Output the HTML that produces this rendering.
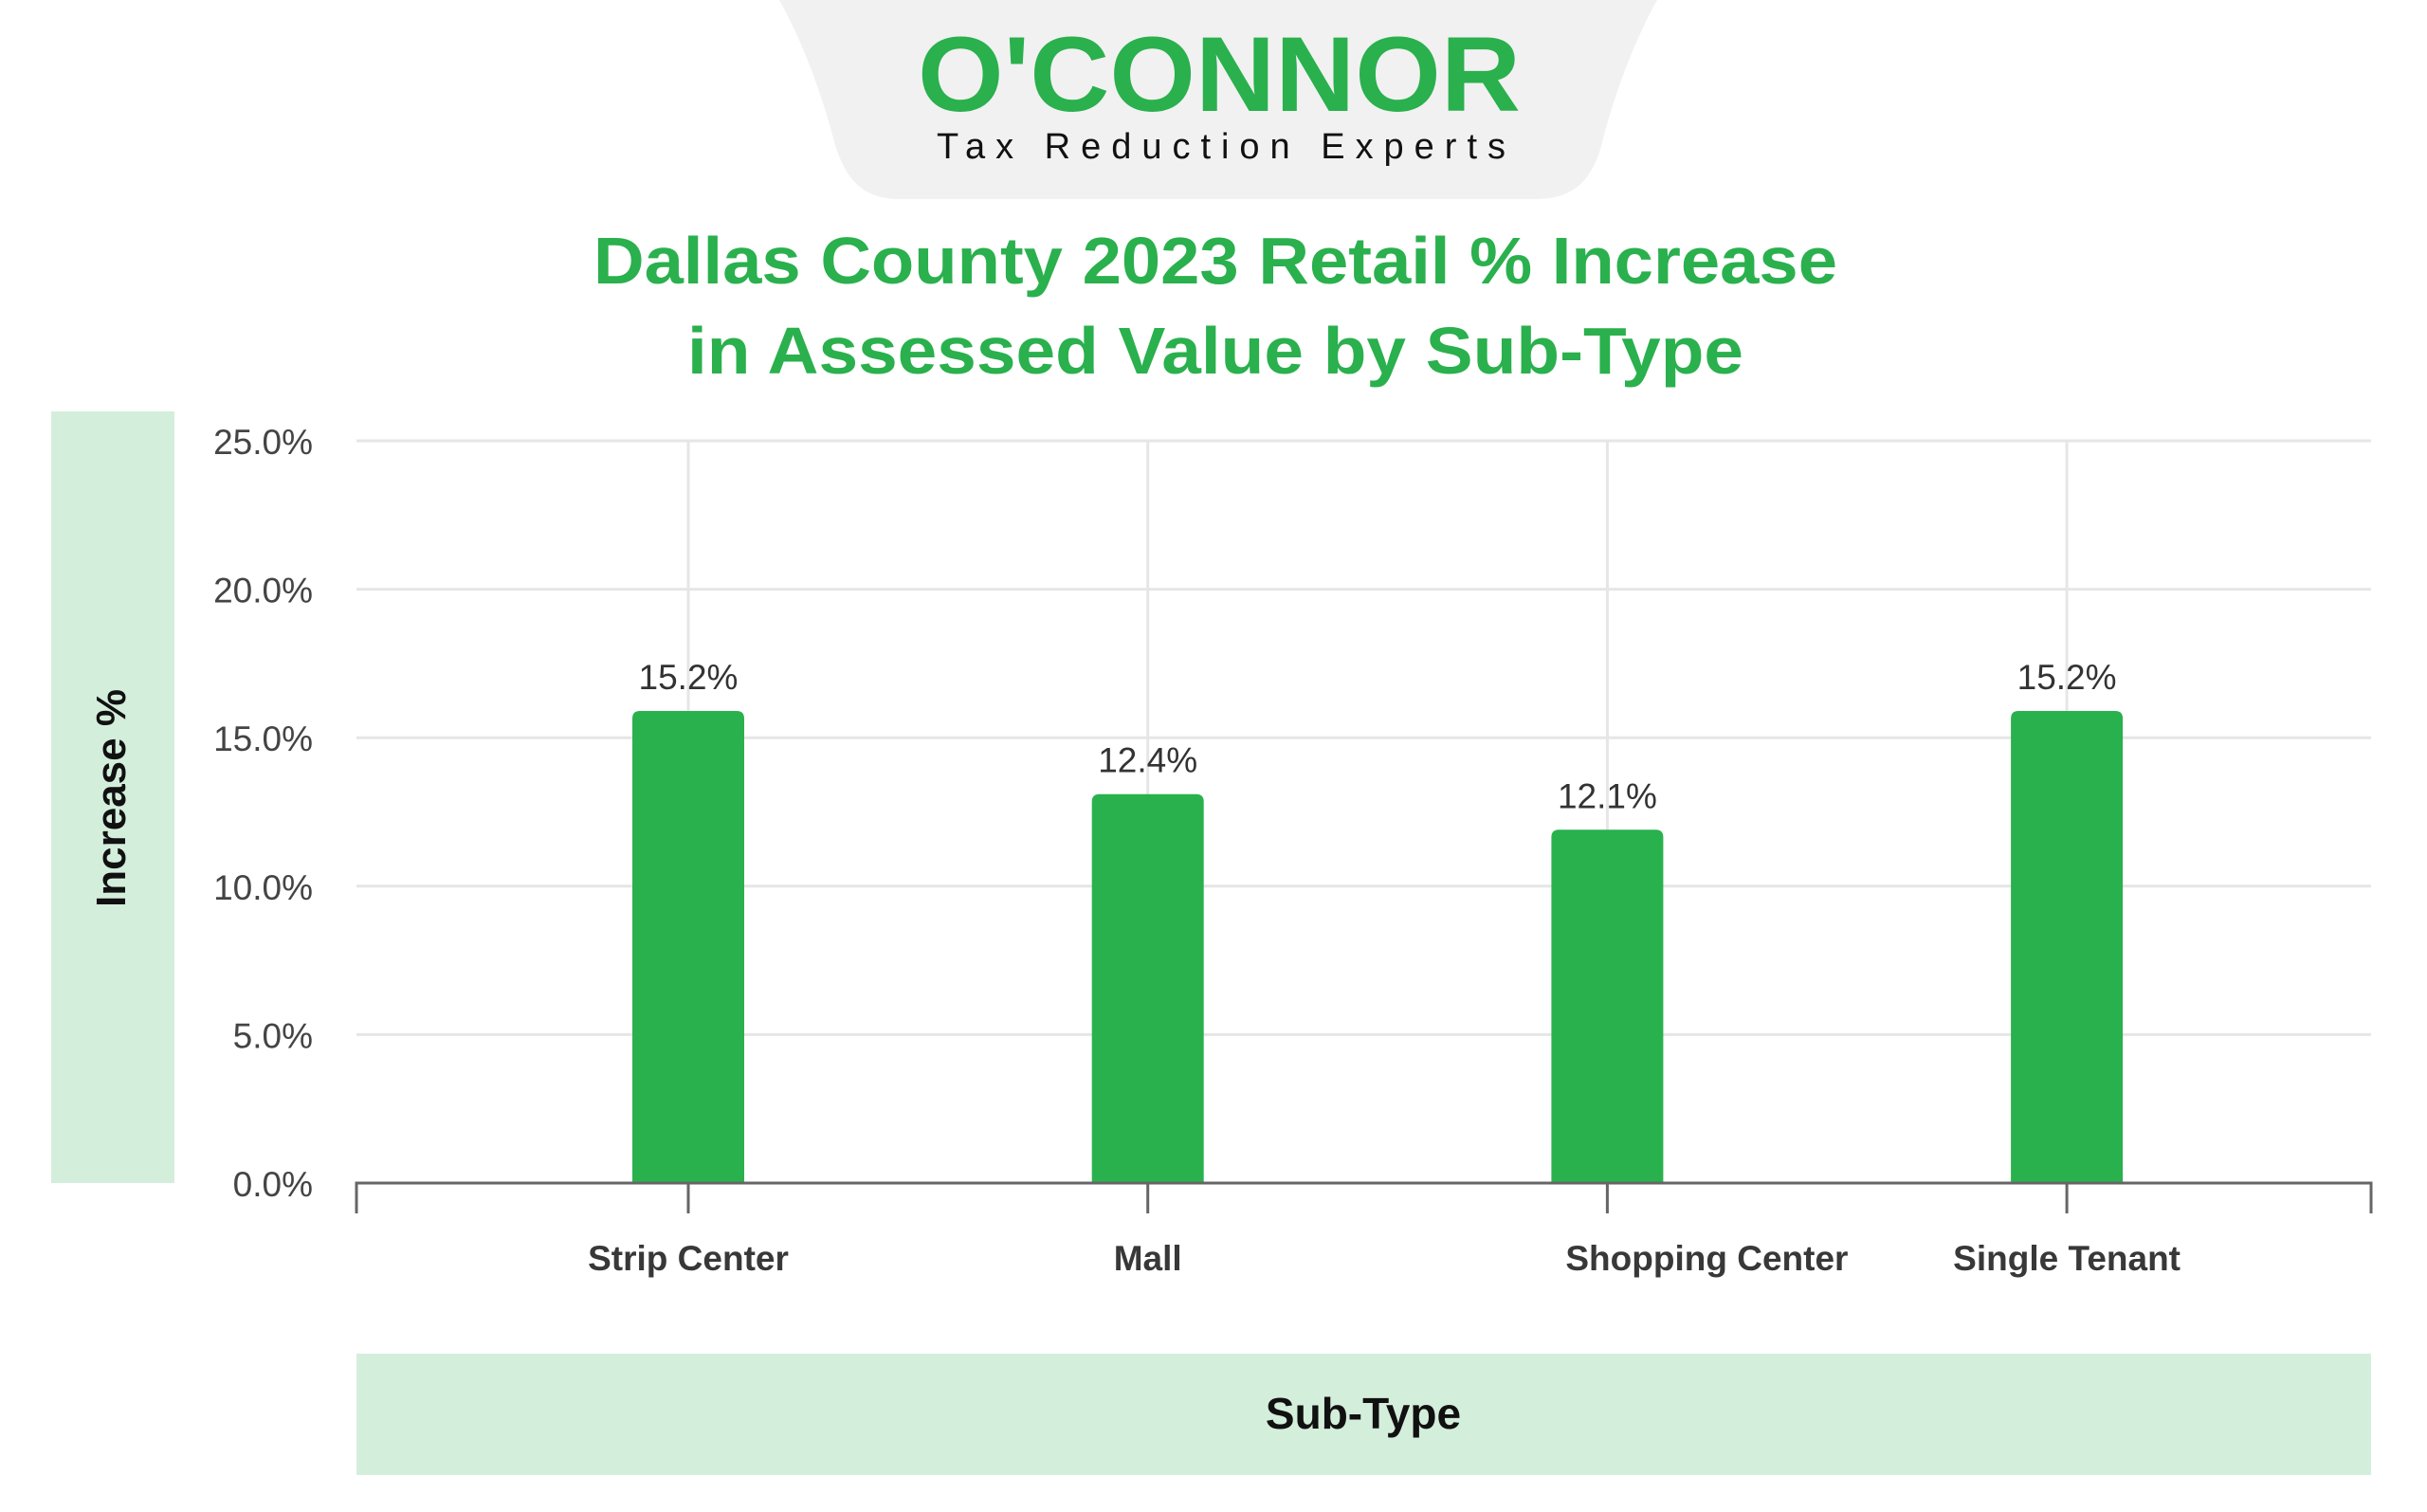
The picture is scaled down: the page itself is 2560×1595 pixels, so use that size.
<!DOCTYPE html>
<html><head><meta charset="utf-8"><style>
html,body{margin:0;padding:0;background:#fff}
body{width:2560px;height:1590px;position:relative;overflow:hidden;font-family:"Liberation Sans",sans-serif}
</style></head><body>
<svg width="2560" height="1590" viewBox="0 0 2560 1590" xmlns="http://www.w3.org/2000/svg">
<path d="M822,0 L1748,0 C1720,50 1700,110 1690,150 C1680,190 1660,210 1620,210 L950,210 C910,210 892,190 880,150 C870,110 850,50 822,0 Z" fill="#f1f1f1"/>
<text x="1286" y="117" text-anchor="middle" font-size="112" font-weight="bold" fill="#2ab04d" textLength="636" lengthAdjust="spacingAndGlyphs">O'CONNOR</text>
<text x="1288" y="167" text-anchor="middle" font-size="38" fill="#111" textLength="600" lengthAdjust="spacing">Tax Reduction Experts</text>
<text x="1282" y="299" text-anchor="middle" font-size="70" font-weight="bold" fill="#2ab04d" textLength="1312" lengthAdjust="spacingAndGlyphs">Dallas County 2023 Retail % Increase</text>
<text x="1282" y="394" text-anchor="middle" font-size="70" font-weight="bold" fill="#2ab04d" textLength="1114" lengthAdjust="spacingAndGlyphs">in Assessed Value by Sub-Type</text>
<rect x="54" y="434" width="130" height="814" fill="#d4eedc"/>
<text transform="translate(132,842) rotate(-90)" text-anchor="middle" font-size="44" font-weight="bold" fill="#111">Increase %</text>
<rect x="376" y="1428" width="2125" height="128" fill="#d4eedc"/>
<text x="1438" y="1507" text-anchor="middle" font-size="46" font-weight="bold" fill="#111">Sub-Type</text>
<g id="grid"></g>
<g id="bars"></g>
<g id="axis"></g>
</svg>
<script>
const categories = ["Strip Center","Mall","Shopping Center","Single Tenant"];
const values = [15.9,13.1,11.9,15.9];
const valueLabels = ["15.2%","12.4%","12.1%","15.2%"];
const yTicks = [0,5,10,15,20,25];
const yTickLabels = ["0.0%","5.0%","10.0%","15.0%","20.0%","25.0%"];
const catLabelOffsets = [0,0,105,0];

const NS="http://www.w3.org/2000/svg";
const x0=376,x1=2501,yBase=1248,yTop=465;
function y(v){return yBase-(v/25)*(yBase-yTop);}
function xc(i){return 726+i*484.7;}
function mk(tag,attrs,parent,txt){const e=document.createElementNS(NS,tag);for(const k in attrs)e.setAttribute(k,attrs[k]);if(txt!==undefined)e.textContent=txt;parent.appendChild(e);return e;}
const grid=document.getElementById('grid'),bars=document.getElementById('bars'),axis=document.getElementById('axis');
yTicks.forEach((t,i)=>{
  if(t>0){const l=mk('line',{x1:x0,x2:x1,y1:y(t),y2:y(t),stroke:'#e6e6e6','stroke-width':3},grid);
  
  }
  const tx=mk('text',{x:330,y:y(t)+14,'text-anchor':'end','font-size':37,fill:'#444'},grid,yTickLabels[i]);
  
  
});
categories.forEach((c,i)=>{
  const g=mk('line',{x1:xc(i),x2:xc(i),y1:yTop,y2:yBase,stroke:'#e6e6e6','stroke-width':3},grid);
  
  
  const bw=118,top=y(values[i]);
  const b=mk('path',{d:`M${xc(i)-bw/2},${yBase} L${xc(i)-bw/2},${top+8} Q${xc(i)-bw/2},${top} ${xc(i)-bw/2+8},${top} L${xc(i)+bw/2-8},${top} Q${xc(i)+bw/2},${top} ${xc(i)+bw/2},${top+8} L${xc(i)+bw/2},${yBase} Z`,fill:'#29b14d'},bars);
  
  
  const vl=mk('text',{x:xc(i),y:top-23,'text-anchor':'middle','font-size':37,fill:'#333'},bars,valueLabels[i]);
  
  
  const tk=mk('line',{x1:xc(i),x2:xc(i),y1:yBase,y2:yBase+32,stroke:'#666','stroke-width':3},axis);
  
  
  const cl=mk('text',{x:xc(i)+catLabelOffsets[i],y:1340,'text-anchor':'middle','font-size':37,'font-weight':'bold',fill:'#383838'},axis,c);
  
  
});
const al=mk('path',{d:`M${x0},${yBase+32} L${x0},${yBase} L${x1},${yBase} L${x1},${yBase+32}`,fill:'none',stroke:'#666','stroke-width':3},axis);


</script>
</body></html>
